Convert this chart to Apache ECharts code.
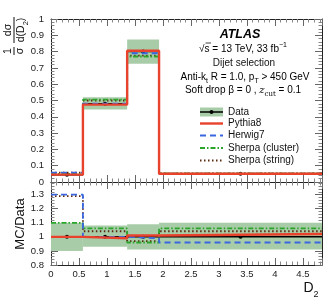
<!DOCTYPE html>
<html><head><meta charset="utf-8">
<script src="https://cdn.jsdelivr.net/npm/echarts@6/dist/echarts.min.js"></script>
<style>html,body{margin:0;padding:0;background:#fff}#c{width:333px;height:297px}</style>
</head><body><div id="c"></div>
<script>
const binEdges = [0, 0.57, 1.36, 1.93, 4.84];
const binCenters = [0.285, 0.965, 1.645, 3.385];
const dataVals = [0.045, 0.48, 0.80, 0.05];
const dataBandLo = [0.040, 0.445, 0.725, 0.045];
const dataBandHi = [0.050, 0.52, 0.875, 0.055];
const pythiaVals = [0.045, 0.475, 0.805, 0.051];
const herwigVals = [0.058, 0.48, 0.79, 0.048];
const sherpaClVals = [0.050, 0.505, 0.77, 0.053];
const sherpaStVals = [0.058, 0.50, 0.775, 0.052];
const ratioBandLo = [0.90, 0.93, 0.91, 0.91];
const ratioBandHi = [1.10, 1.08, 1.09, 1.10];
const ratioData = [1.0, 1.0, 1.0, 1.0];
const ratioPythia = [1.0, 0.99, 1.01, 1.02];
const ratioHerwig = [1.30, 1.0, 0.99, 0.96];
const ratioSherpaCl = [1.10, 1.06, 0.96, 1.06];
const ratioSherpaSt = [1.29, 1.04, 0.97, 1.04];
const xTicks = [0, 0.5, 1, 1.5, 2, 2.5, 3, 3.5, 4, 4.5];
const yTicksTop = [0, 0.1, 0.2, 0.3, 0.4, 0.5, 0.6, 0.7, 0.8, 0.9, 1];
const yTicksRatio = [0.8, 0.9, 1, 1.1, 1.2, 1.3];
const legendNames = ['Data', 'Pythia8', 'Herwig7', 'Sherpa (cluster)', 'Sherpa (string)'];

const FONT = '"Liberation Sans", Arial, sans-serif';
const bandColor = '#a8cca8';

function steps(vals){
  const p = [];
  for (let i = 0; i < vals.length; i++){ p.push([binEdges[i], vals[i]]); p.push([binEdges[i+1], vals[i]]); }
  return p;
}
function dataSteps(vals){
  const p = [];
  for (let i = 0; i < vals.length; i++){
    p.push({value:[binEdges[i], vals[i]], symbol:'none'});
    p.push({value:[binCenters[i], vals[i]]});
    p.push({value:[binEdges[i+1], vals[i]], symbol:'none'});
  }
  return p;
}
function bands(lo, hi){ return lo.map((v,i)=>[binEdges[i], binEdges[i+1], v, hi[i]]); }
function inList(list){ return v => list.some(t => Math.abs(t - v) < 1e-6) ? String(+v.toFixed(2)) : ''; }

function xAx(grid, pos, labels){
  return {type:'value', gridIndex:grid, position:pos, min:0, max:4.84, interval:0.5,
    axisLine:{show:true, onZero:false, lineStyle:{color:'#222', width:1}},
    axisTick:{show:true, inside:true, length:7, lineStyle:{color:'#666'}},
    minorTick:{show:true, splitNumber:5, length:3.5, lineStyle:{color:'#888'}},
    splitLine:{show:false},
    axisLabel:{show:labels, inside:false, margin:4, fontSize:9.5, color:'#222', fontFamily:FONT, formatter: inList(xTicks), showMaxLabel:false}};
}
function yAx(grid, pos, min, max, list, labels){
  return {type:'value', gridIndex:grid, position:pos, min:min, max:max, interval:0.1,
    axisLine:{show:true, onZero:false, lineStyle:{color:'#222', width:1}},
    axisTick:{show:true, inside:true, length:7, lineStyle:{color:'#666'}},
    minorTick:{show:true, splitNumber:5, length:3.5, lineStyle:{color:'#888'}},
    splitLine:{show:false},
    axisLabel:{show:labels, margin:7, fontSize:9.5, color:'#222', fontFamily:FONT, formatter: inList(list)}};
}

const styles = {
  Pythia8: {color:'#e8412c', width:2.4, type:'solid'},
  Herwig7: {color:'#3a66e0', width:1.8, type:[6,4]},
  'Sherpa (cluster)': {color:'#2aa52a', width:1.8, type:[5,2,1.5,2]},
  'Sherpa (string)': {color:'#5a2a10', width:1.8, type:[1.5,2.5]}
};
function mcSeries(name, vals, xi, yi, z){
  return {name:name, type:'line', xAxisIndex:xi, yAxisIndex:yi, data:steps(vals), symbol:'none',
    lineStyle:styles[name], itemStyle:{color:styles[name].color}, z:z, animation:false, silent:true};
}
function dataSeries(vals, xi, yi){
  return {name:'Data', type:'line', xAxisIndex:xi, yAxisIndex:yi, data:dataSteps(vals), symbol:'circle', symbolSize:4,
    showAllSymbol:true, lineStyle:{color:'#000', width:1.5}, itemStyle:{color:'#000'}, z:3, animation:false, silent:true};
}
function bandSeries(lo, hi, xi, yi){
  return {type:'custom', xAxisIndex:xi, yAxisIndex:yi, data:bands(lo,hi), encode:{x:[0,1], y:[2,3]}, z:1, animation:false, silent:true,
    renderItem:(params, api)=>{
      const p1 = api.coord([api.value(0), api.value(3)]);
      const p2 = api.coord([api.value(1), api.value(2)]);
      return {type:'rect', shape:{x:p1[0], y:p1[1], width:p2[0]-p1[0], height:p2[1]-p1[1]}, style:{fill:bandColor}};
    }};
}

const txt = (x, y, text, extra) => Object.assign({type:'text', x:x, y:y, z:10,
  style:Object.assign({text:text, fontFamily:FONT, fontSize:10, fill:'#111', align:'center', verticalAlign:'middle'}, extra||{})});

const rich = {
  n:{fontSize:10, fontFamily:FONT, lineHeight:12, verticalAlign:'bottom'},
  sub:{fontSize:7, fontFamily:FONT, lineHeight:12, verticalAlign:'bottom', padding:[0,0,-3,0]},
  sup:{fontSize:7, fontFamily:FONT, lineHeight:12, verticalAlign:'top'},
  zs:{fontSize:10, fontFamily:'"DejaVu Serif", "Liberation Serif", serif', fontStyle:'italic', lineHeight:12, verticalAlign:'bottom'},
  zsub:{fontSize:7, fontFamily:'"DejaVu Serif", "Liberation Serif", serif', lineHeight:12, verticalAlign:'bottom', padding:[0,0,-3,0]}
};

// manual legend
const legendRowsY = [112, 123.5, 135.5, 148, 160.5];
const legendGraphics = [];
legendNames.forEach((name, i) => {
  const y = legendRowsY[i];
  if (name === 'Data'){
    legendGraphics.push({type:'rect', shape:{x:200, y:y-4.5, width:23, height:9}, style:{fill:bandColor}, z:15});
    legendGraphics.push({type:'line', shape:{x1:200, y1:y, x2:223, y2:y}, style:{stroke:'#000', lineWidth:1.5}, z:16});
    legendGraphics.push({type:'circle', shape:{cx:211.5, cy:y, r:2}, style:{fill:'#000'}, z:17});
  } else {
    const s = styles[name];
    legendGraphics.push({type:'line', shape:{x1:200, y1:y, x2:223, y2:y},
      style:{stroke:s.color, lineWidth:s.width, lineDash: s.type === 'solid' ? null : s.type}, z:16});
  }
  legendGraphics.push(txt(228, y, name, {align:'left'}));
});

const option = {
  animation:false,
  backgroundColor:'#fff',
  grid:[{left:51, top:19, width:271, height:163}, {left:51, top:182, width:271, height:83}],
  xAxis:[xAx(0,'bottom',false), xAx(0,'top',false), xAx(1,'bottom',true), xAx(1,'top',false)],
  yAxis:[yAx(0,'left',0,1,yTicksTop,true), yAx(0,'right',0,1,yTicksTop,false),
         yAx(1,'left',0.8,1.39,yTicksRatio,true), yAx(1,'right',0.8,1.39,yTicksRatio,false)],
  graphic:[
    txt(240, 35, 'ATLAS', {fontSize:12.5, fontWeight:'bold', fontStyle:'italic', fill:'#000'}),
    {type:'text', x:243, y:48, z:10, style:{text:'{n|√s = 13 TeV, 33 fb}{sup|−1}', rich:rich, align:'center', verticalAlign:'middle'}},
    {type:'line', shape:{x1:205.5, y1:43, x2:211, y2:43}, style:{stroke:'#111', lineWidth:0.8}, z:10},
    txt(244, 63, 'Dijet selection'),
    {type:'text', x:245, y:76, z:10, style:{text:'{n|Anti-k}{sub|t}{n| R = 1.0, p}{sub|T}{n| > 450 GeV}', rich:rich, align:'center', verticalAlign:'middle'}},
    {type:'text', x:243, y:89, z:10, style:{text:'{n|Soft drop β = 0 , }{zs|z}{zsub|cut}{n| = 0.1}', rich:rich, align:'center', verticalAlign:'middle'}},
    {type:'group', x:14, y:37, rotation:Math.PI/2, z:10, children:[
      {type:'text', x:-14, y:-6, style:{text:'1', fontSize:10.5, fontFamily:FONT, fill:'#111', align:'center', verticalAlign:'middle'}},
      {type:'line', shape:{x1:-18, y1:0, x2:-10, y2:0}, style:{stroke:'#111', lineWidth:1}},
      {type:'text', x:-14, y:6, style:{text:'σ', fontSize:10.5, fontFamily:FONT, fill:'#111', align:'center', verticalAlign:'middle'}},
      {type:'text', x:7, y:-6, style:{text:'dσ', fontSize:10.5, fontFamily:FONT, fill:'#111', align:'center', verticalAlign:'middle'}},
      {type:'line', shape:{x1:-6, y1:0, x2:20, y2:0}, style:{stroke:'#111', lineWidth:1}},
      {type:'text', x:7, y:7, style:{text:'{a|d(D}{s|2}{a|)}', rich:{a:{fontSize:10.5, fontFamily:FONT, fill:'#111', lineHeight:12, verticalAlign:'bottom'}, s:{fontSize:7.5, fontFamily:FONT, fill:'#111', lineHeight:12, verticalAlign:'bottom', padding:[0,0,-3,0]}}, align:'center', verticalAlign:'middle'}}
    ]},
    {type:'text', x:20, y:224, rotation:Math.PI/2, z:10, style:{text:'MC/Data', fontSize:13, fontFamily:FONT, fill:'#111', align:'center', verticalAlign:'middle'}},
    {type:'text', x:311, y:287, z:10, style:{text:'{a|D}{s|2}', rich:{a:{fontSize:14, fontFamily:FONT, fill:'#111', lineHeight:16, verticalAlign:'bottom'}, s:{fontSize:9, fontFamily:FONT, fill:'#111', lineHeight:16, verticalAlign:'bottom', padding:[0,0,-4,0]}}, align:'center', verticalAlign:'middle'}}
  ].concat(legendGraphics),
  series:[
    bandSeries(dataBandLo, dataBandHi, 0, 0),
    dataSeries(dataVals, 0, 0),
    mcSeries('Sherpa (string)', sherpaStVals, 0, 0, 4),
    mcSeries('Sherpa (cluster)', sherpaClVals, 0, 0, 5),
    mcSeries('Herwig7', herwigVals, 0, 0, 6),
    mcSeries('Pythia8', pythiaVals, 0, 0, 7),
    bandSeries(ratioBandLo, ratioBandHi, 2, 2),
    dataSeries(ratioData, 2, 2),
    mcSeries('Sherpa (string)', ratioSherpaSt, 2, 2, 4),
    mcSeries('Sherpa (cluster)', ratioSherpaCl, 2, 2, 5),
    mcSeries('Herwig7', ratioHerwig, 2, 2, 6),
    mcSeries('Pythia8', ratioPythia, 2, 2, 7)
  ]
};
const chart = echarts.init(document.getElementById('c'), null, {renderer:'canvas'});
chart.setOption(option);
</script></body></html>
